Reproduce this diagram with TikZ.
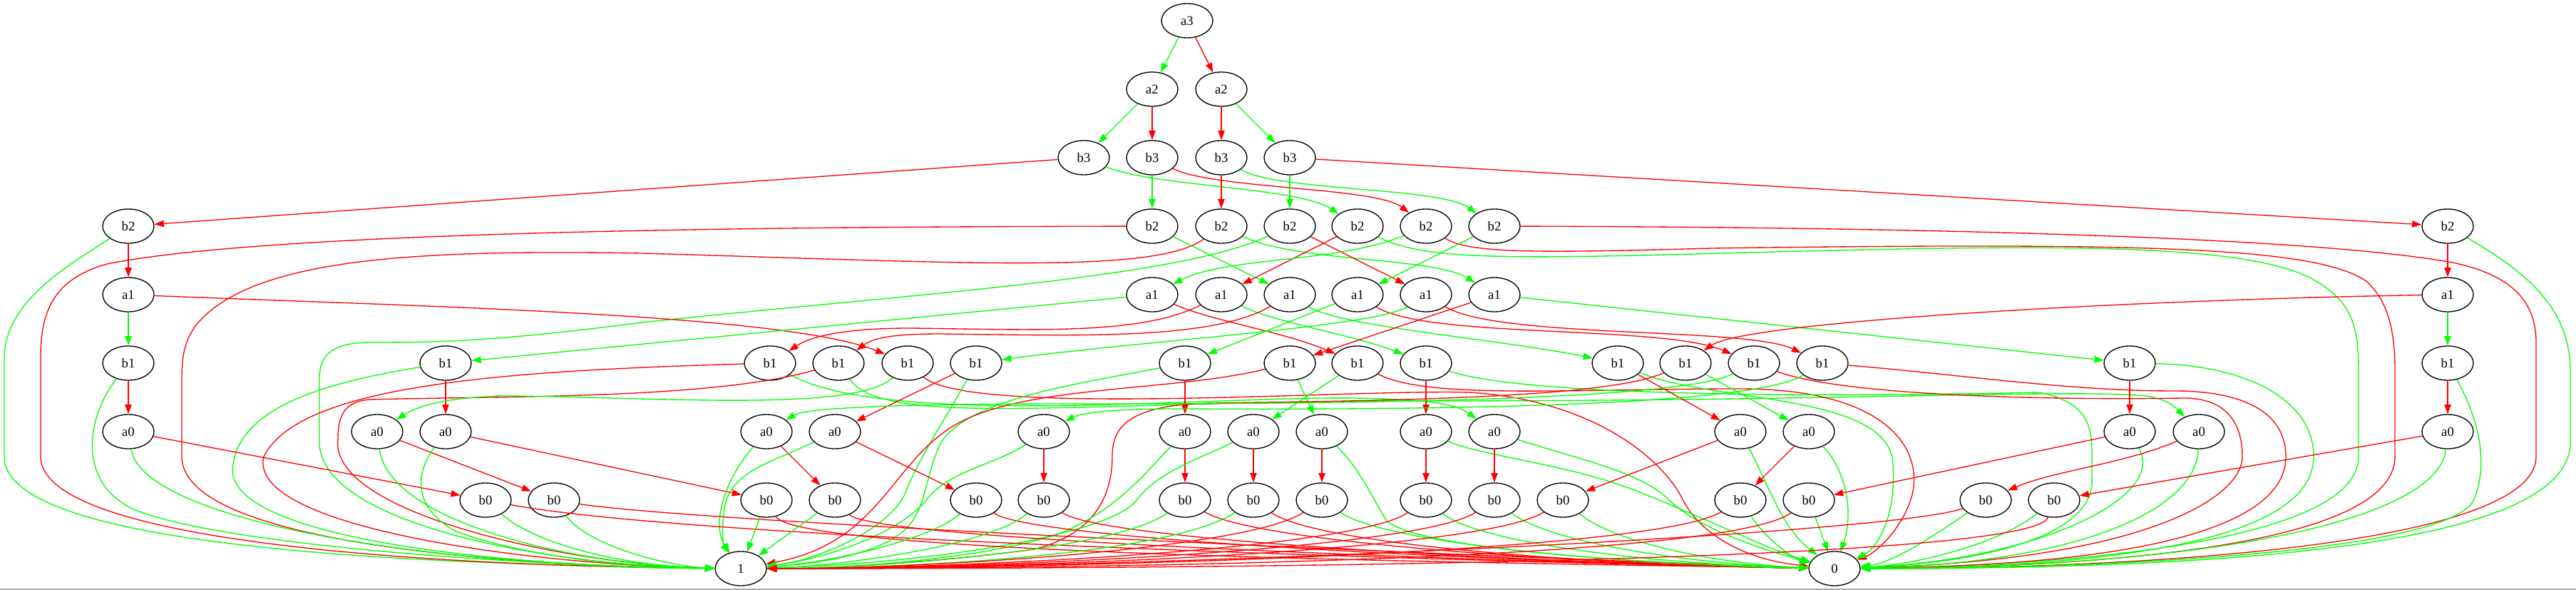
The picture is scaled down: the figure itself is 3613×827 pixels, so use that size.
\documentclass[tikz,border=0pt]{standalone}
\usepackage{fontspec}
\setmainfont{Liberation Serif}
\usetikzlibrary{arrows.meta,shapes.geometric}
\definecolor{lgreen}{RGB}{0,255,0}
\definecolor{lred}{RGB}{255,0,0}
\definecolor{lgray}{RGB}{170,170,170}
\begin{document}
\begin{tikzpicture}[x=0.75pt,y=-0.75pt,
  bdd/.style={draw=black, ellipse, line width=1pt, minimum width=54pt, minimum height=36pt, inner sep=0pt, font=\fontsize{14}{16}\selectfont},
  gedge/.style={draw=lgreen, line width=1pt, -{Triangle[length=10pt,width=7pt]}},
  redge/.style={draw=lred, line width=1pt, -{Triangle[length=10pt,width=7pt]}}]
\fill[white] (0,0) rectangle (3613,827);
\useasboundingbox (0,0) rectangle (3613,827);
\draw[lgray, line width=1.5pt] (0,826) -- (3613,826);
% nodes
\node[bdd] (a3) at (1665,29) {a3};
\node[bdd] (a2x1616) at (1616,125) {a2};
\node[bdd] (a2x1713) at (1713,125) {a2};
\foreach \x in {1520,1616,1713,1809} \node[bdd] (b3x\x) at (\x,221) {b3};
\foreach \x in {180,1616,1713,1809,1904,2000,2096,3433} \node[bdd] (b2x\x) at (\x,317) {b2};
\foreach \x in {180,1616,1713,1809,1904,2000,2096,3433} \node[bdd] (a1x\x) at (\x,413) {a1};
\foreach \x in {180,625,1080,1176,1273,1369,1662,1809,1904,2000,2269,2364,2460,2556,2987,3433} \node[bdd] (b1x\x) at (\x,509) {b1};
\foreach \x in {180,529,625,1075,1171,1464,1662,1758,1854,2000,2096,2441,2537,2987,3084,3433} \node[bdd] (a0x\x) at (\x,605) {a0};
\foreach \x in {681,777,1075,1171,1369,1464,1662,1758,1854,2000,2096,2192,2441,2537,2785,2881} \node[bdd] (b0x\x) at (\x,701) {b0};
\node[bdd] (T1) at (1039,797) {1};
\node[bdd] (T0) at (2573,797) {0};
% a3, a2
\draw[gedge] (a3) -- (a2x1616);
\draw[redge] (a3) -- (a2x1713);
\draw[gedge] (a2x1616) -- (b3x1520);
\draw[redge] (a2x1616) -- (b3x1616);
\draw[redge] (a2x1713) -- (b3x1713);
\draw[gedge] (a2x1713) -- (b3x1809);
% b3
\draw[redge] (b3x1520) -- (b2x180);
\draw[gedge] (b3x1520) .. controls (1620,262) and (1820,262) .. (b2x1904);
\draw[gedge] (b3x1616) -- (b2x1616);
\draw[redge] (b3x1616) .. controls (1700,265) and (1930,262) .. (b2x2000);
\draw[redge] (b3x1713) -- (b2x1713);
\draw[gedge] (b3x1713) .. controls (1790,268) and (2020,262) .. (b2x2096);
\draw[gedge] (b3x1809) -- (b2x1809);
\draw[redge] (b3x1809) -- (b2x3433);
% b2
\draw[redge] (b2x180) -- (a1x180);
\draw[gedge] (b2x180) .. controls (100,370) and (8,420) .. (6,500) -- (6,640) .. controls (6,760) and (500,790) .. (T1);
\draw[redge] (b2x1616) .. controls (1200,318) and (400,320) .. (150,370) .. controls (80,390) and (57,430) .. (57,500) -- (57,640) .. controls (57,760) and (600,793) .. (T1);
\draw[redge] (b2x1713) .. controls (1620,385) and (1350,368) .. (900,355) .. controls (600,350) and (380,360) .. (290,440) .. controls (262,465) and (255,490) .. (255,530) -- (255,640) .. controls (255,760) and (700,793) .. (T1);
\draw[gedge] (b2x1809) .. controls (1650,390) and (1300,410) .. (900,452) .. controls (700,478) and (620,480) .. (520,480) .. controls (470,480) and (448,495) .. (448,530) -- (448,620) .. controls (448,730) and (750,792) .. (T1);
\draw[gedge] (b2x1616) -- (a1x1809);
\draw[gedge] (b2x1713) .. controls (1820,368) and (2010,360) .. (a1x2096);
\draw[redge] (b2x1809) -- (a1x2000);
\draw[redge] (b2x1904) -- (a1x1713);
\draw[gedge] (b2x1904) .. controls (1990,362) and (2100,362) .. (2300,358) .. controls (2800,345) and (3150,332) .. (3250,395) .. controls (3300,425) and (3308,460) .. (3308,520) -- (3308,640) .. controls (3308,760) and (2900,793) .. (T0);
\draw[redge] (b2x2000) .. controls (2060,355) and (2150,355) .. (2400,348) .. controls (3000,340) and (3250,345) .. (3320,395) .. controls (3352,425) and (3359,470) .. (3359,520) -- (3359,640) .. controls (3359,765) and (2950,795) .. (T0);
\draw[redge] (b2x2096) .. controls (2500,318) and (3200,325) .. (3440,368) .. controls (3520,385) and (3557,420) .. (3557,480) -- (3557,640) .. controls (3557,765) and (3000,797) .. (T0);
\draw[gedge] (b2x2096) -- (a1x1904);
\draw[gedge] (b2x2000) .. controls (1880,368) and (1720,360) .. (a1x1616);
\draw[redge] (b2x3433) -- (a1x3433);
\draw[gedge] (b2x3433) .. controls (3540,380) and (3605,430) .. (3605,520) -- (3605,620) .. controls (3605,770) and (3100,797) .. (T0);
% a1
\draw[gedge] (a1x180) -- (b1x180);
\draw[redge] (a1x180) .. controls (600,430) and (1100,440) .. (b1x1273);
\draw[gedge] (a1x1616) -- (b1x625);
\draw[redge] (a1x1616) .. controls (1700,450) and (1800,465) .. (b1x1904);
\draw[gedge] (a1x1713) .. controls (1780,450) and (1900,470) .. (b1x2000);
\draw[redge] (a1x1713) .. controls (1600,470) and (1450,462) .. (1277,460) .. controls (1190,460) and (1140,470) .. (b1x1080);
\draw[gedge] (a1x1809) .. controls (1880,458) and (2100,475) .. (b1x2269);
\draw[redge] (a1x1809) .. controls (1700,478) and (1500,470) .. (1320,468) .. controls (1250,468) and (1225,474) .. (b1x1176);
\draw[gedge] (a1x1904) -- (b1x1662);
\draw[redge] (a1x1904) .. controls (2000,475) and (2330,455) .. (b1x2460);
\draw[gedge] (a1x2000) .. controls (1930,458) and (1600,478) .. (b1x1369);
\draw[redge] (a1x2000) .. controls (2100,475) and (2450,458) .. (b1x2556);
\draw[gedge] (a1x2096) -- (b1x2987);
\draw[redge] (a1x2096) -- (b1x1809);
\draw[gedge] (a1x3433) -- (b1x3433);
\draw[redge] (a1x3433) .. controls (3000,420) and (2450,450) .. (b1x2364);
% b1
\draw[redge] (b1x180) -- (a0x180);
\draw[gedge] (b1x180) .. controls (118,590) and (110,680) .. (190,715) .. controls (330,770) and (800,795) .. (T1);
\draw[redge] (b1x625) -- (a0x625);
\draw[gedge] (b1x625) .. controls (430,540) and (330,580) .. (326,660) .. controls (330,755) and (700,794) .. (T1);
\draw[redge] (b1x1080) .. controls (700,520) and (420,540) .. (370,640) .. controls (345,740) and (750,792) .. (T1);
\draw[gedge] (b1x1080) .. controls (1240,600) and (1700,555) .. (1900,558) .. controls (2000,560) and (2040,565) .. (a0x2096);
\draw[redge] (b1x1176) .. controls (1000,560) and (700,555) .. (520,560) .. controls (485,562) and (474,580) .. (474,615) .. controls (460,720) and (800,792) .. (T1);
\draw[gedge] (b1x1176) .. controls (1240,600) and (1500,562) .. (2000,562) .. controls (2600,562) and (2900,545) .. (3010,555) .. controls (3040,560) and (3050,570) .. (a0x3084);
\draw[redge] (b1x1273) .. controls (1360,585) and (1900,545) .. (2060,550) .. controls (2230,560) and (2330,640) .. (2360,700) .. controls (2385,750) and (2450,785) .. (T0);
\draw[gedge] (b1x1273) .. controls (1200,580) and (900,555) .. (700,555) .. controls (620,558) and (585,570) .. (a0x529);
\draw[redge] (b1x1369) -- (a0x1171);
\draw[gedge] (b1x1369) .. controls (1330,580) and (1290,640) .. (1270,690) .. controls (1250,740) and (1150,785) .. (T1);
\draw[redge] (b1x1662) -- (a0x1662);
\draw[gedge] (b1x1662) .. controls (1500,540) and (1360,560) .. (1320,620) .. controls (1300,660) and (1300,700) .. (1280,730) .. controls (1250,775) and (1150,790) .. (T1);
\draw[redge] (b1x1809) .. controls (1650,548) and (1450,540) .. (1350,590) .. controls (1250,640) and (1240,760) .. (T1);
\draw[gedge] (b1x1809) -- (a0x1854);
\draw[redge] (b1x1904) .. controls (2000,560) and (2200,545) .. (2440,545) .. controls (2660,545) and (2700,640) .. (2680,700) .. controls (2665,745) and (2630,775) .. (T0);
\draw[gedge] (b1x1904) -- (a0x1758);
\draw[redge] (b1x2000) -- (a0x2000);
\draw[gedge] (b1x2000) .. controls (2150,560) and (2650,555) .. (2860,550) .. controls (2920,562) and (2934,590) .. (2934,630) -- (2934,670) .. controls (2940,760) and (2750,790) .. (T0);
\draw[redge] (b1x2269) -- (a0x2441);
\draw[gedge] (b1x2269) .. controls (2400,565) and (2650,550) .. (2655,650) .. controls (2660,730) and (2630,770) .. (T0);
\draw[redge] (b1x2364) .. controls (2250,560) and (1900,562) .. (1700,565) .. controls (1580,567) and (1560,600) .. (1560,640) .. controls (1560,700) and (1530,750) .. (1450,770) .. controls (1300,790) and (1150,797) .. (T1);
\draw[gedge] (b1x2364) -- (a0x2537);
\draw[redge] (b1x2460) .. controls (2600,560) and (2950,560) .. (3060,558) .. controls (3120,557) and (3145,590) .. (3145,640) .. controls (3145,700) and (3000,785) .. (T0);
\draw[gedge] (b1x2460) .. controls (2350,565) and (1800,566) .. (1500,566) .. controls (1250,566) and (1130,572) .. (a0x1075);
\draw[redge] (b1x2556) .. controls (2750,525) and (2900,548) .. (3050,548) .. controls (3150,548) and (3206,580) .. (3206,640) .. controls (3206,740) and (3000,792) .. (T0);
\draw[gedge] (b1x2556) .. controls (2450,575) and (1900,574) .. (1650,573) .. controls (1550,573) and (1515,580) .. (a0x1464);
\draw[redge] (b1x2987) -- (a0x2987);
\draw[gedge] (b1x2987) .. controls (3150,512) and (3245,560) .. (3245,640) .. controls (3245,750) and (3000,795) .. (T0);
\draw[redge] (b1x3433) -- (a0x3433);
\draw[gedge] (b1x3433) .. controls (3478,590) and (3490,650) .. (3470,700) .. controls (3440,770) and (3000,797) .. (T0);
% a0
\draw[redge] (a0x180) -- (b0x681);
\draw[gedge] (a0x180) .. controls (200,730) and (600,795) .. (T1);
\draw[redge] (a0x529) -- (b0x777);
\draw[gedge] (a0x529) .. controls (545,730) and (800,792) .. (T1);
\draw[redge] (a0x625) -- (b0x1075);
\draw[gedge] (a0x625) .. controls (585,660) and (575,710) .. (640,745) .. controls (750,785) and (900,795) .. (T1);
\draw[redge] (a0x1075) -- (b0x1171);
\draw[gedge] (a0x1075) .. controls (1010,680) and (1000,740) .. (T1);
\draw[redge] (a0x1171) -- (b0x1369);
\draw[gedge] (a0x1171) .. controls (1080,650) and (1020,660) .. (1015,720) .. controls (1012,750) and (1015,765) .. (T1);
\draw[redge] (a0x1464) -- (b0x1464);
\draw[gedge] (a0x1464) .. controls (1400,650) and (1330,660) .. (1300,700) .. controls (1260,750) and (1150,785) .. (T1);
\draw[redge] (a0x1662) -- (b0x1662);
\draw[gedge] (a0x1662) .. controls (1600,670) and (1560,720) .. (1480,750) .. controls (1350,790) and (1150,797) .. (T1);
\draw[redge] (a0x1758) -- (b0x1758);
\draw[gedge] (a0x1758) .. controls (1690,640) and (1625,660) .. (1595,700) .. controls (1560,750) and (1300,790) .. (T1);
\draw[redge] (a0x1854) -- (b0x1854);
\draw[gedge] (a0x1854) .. controls (1910,660) and (1925,700) .. (1945,730) .. controls (1990,770) and (2300,790) .. (T0);
\draw[redge] (a0x2000) -- (b0x2000);
\draw[gedge] (a0x2000) .. controls (2080,640) and (2200,650) .. (2300,690) .. controls (2400,730) and (2480,770) .. (T0);
\draw[redge] (a0x2096) -- (b0x2096);
\draw[gedge] (a0x2096) .. controls (2200,640) and (2300,660) .. (2340,700) .. controls (2380,740) and (2470,770) .. (T0);
\draw[redge] (a0x2441) -- (b0x2192);
\draw[gedge] (a0x2441) .. controls (2485,690) and (2500,740) .. (T0);
\draw[redge] (a0x2537) -- (b0x2441);
\draw[gedge] (a0x2537) .. controls (2590,660) and (2600,720) .. (T0);
\draw[redge] (a0x2987) -- (b0x2537);
\draw[gedge] (a0x2987) .. controls (3040,700) and (2850,785) .. (T0);
\draw[redge] (a0x3084) .. controls (2980,650) and (2880,660) .. (b0x2785);
\draw[gedge] (a0x3084) .. controls (3080,720) and (2900,790) .. (T0);
\draw[redge] (a0x3433) -- (b0x2881);
\draw[gedge] (a0x3433) .. controls (3420,730) and (3100,795) .. (T0);
% b0
\draw[gedge] (b0x681) .. controls (760,770) and (900,795) .. (T1);
\draw[redge] (b0x681) .. controls (1000,760) and (2200,790) .. (T0);
\draw[gedge] (b0x777) .. controls (830,770) and (950,795) .. (T1);
\draw[redge] (b0x777) .. controls (1000,735) and (2200,785) .. (T0);
\draw[gedge] (b0x1075) -- (T1);
\draw[redge] (b0x1075) .. controls (1120,780) and (2200,790) .. (T0);
\draw[gedge] (b0x1171) -- (T1);
\draw[redge] (b0x1171) .. controls (1230,760) and (2200,790) .. (T0);
\draw[gedge] (b0x1369) .. controls (1300,760) and (1150,790) .. (T1);
\draw[redge] (b0x1369) .. controls (1450,760) and (2200,790) .. (T0);
\draw[gedge] (b0x1464) .. controls (1380,770) and (1150,795) .. (T1);
\draw[redge] (b0x1464) .. controls (1550,760) and (2200,790) .. (T0);
\draw[gedge] (b0x1662) .. controls (1560,775) and (1200,797) .. (T1);
\draw[redge] (b0x1662) .. controls (1760,760) and (2200,790) .. (T0);
\draw[gedge] (b0x1758) .. controls (1640,780) and (1250,797) .. (T1);
\draw[redge] (b0x1758) .. controls (1850,765) and (2250,792) .. (T0);
\draw[gedge] (b0x1854) .. controls (1950,765) and (2300,792) .. (T0);
\draw[redge] (b0x1854) .. controls (1750,770) and (1300,797) .. (T1);
\draw[gedge] (b0x2000) .. controls (2080,765) and (2350,792) .. (T0);
\draw[redge] (b0x2000) .. controls (1900,770) and (1350,797) .. (T1);
\draw[gedge] (b0x2096) .. controls (2180,765) and (2400,792) .. (T0);
\draw[redge] (b0x2096) .. controls (1990,770) and (1400,797) .. (T1);
\draw[gedge] (b0x2192) .. controls (2270,765) and (2430,792) .. (T0);
\draw[redge] (b0x2192) .. controls (2080,772) and (1450,797) .. (T1);
\draw[gedge] (b0x2441) .. controls (2480,760) and (2520,785) .. (T0);
\draw[redge] (b0x2441) .. controls (2320,775) and (1500,797) .. (T1);
\draw[gedge] (b0x2537) -- (T0);
\draw[redge] (b0x2537) .. controls (2420,785) and (1550,797) .. (T1);
\draw[gedge] (b0x2785) .. controls (2700,760) and (2650,790) .. (T0);
\draw[redge] (b0x2785) .. controls (2650,750) and (1600,797) .. (T1);
\draw[gedge] (b0x2881) .. controls (2800,765) and (2680,792) .. (T0);
\draw[redge] (b0x2881) .. controls (2850,790) and (1650,797) .. (T1);
\end{tikzpicture}
\end{document}
